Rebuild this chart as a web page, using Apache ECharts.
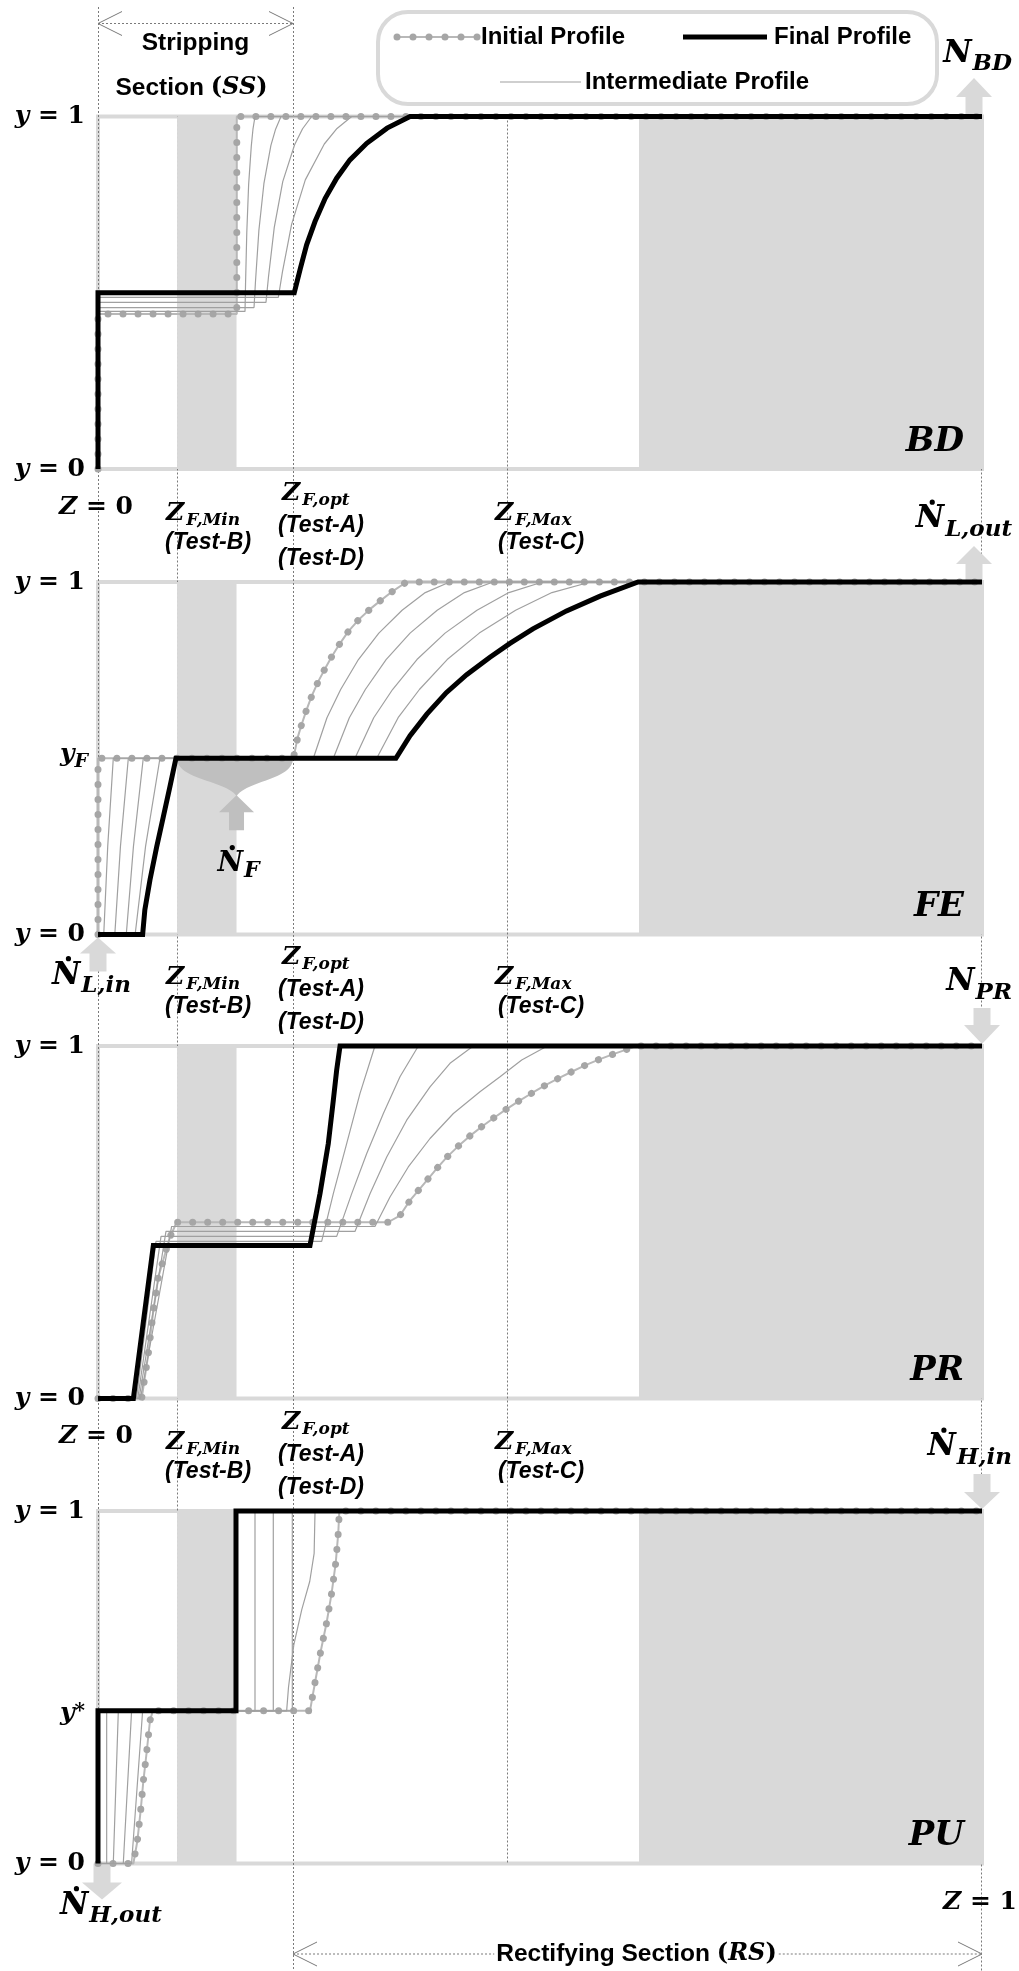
<!DOCTYPE html>
<html>
<head>
<meta charset="utf-8">
<title>Composition profiles along the column</title>
<script src="https://cdn.jsdelivr.net/npm/echarts@6.0.0/dist/echarts.min.js"></script>
<style>
  html, body { margin: 0; padding: 0; background: #fff; }
  #chart { width: 1019px; height: 1971px; }
</style>
</head>
<body>
<div id="chart"></div>
<script>
// ---- marks along the normalised column height Z (0 = bottom, 1 = top) ----
const zFeedMin = 0.0894;
const zFeedOpt = 0.2206;
const zFeedMax = 0.4627;
const stripShade = [0.0894, 0.1567];
const rectShade = [0.612, 1];
const yFeed = 0.5;
const yStar = 0.433;
const panelNames = ['BD', 'FE', 'PR', 'PU'];

// ---- BD : batch distillation ----
const bdInitial = [[0, 0], [0, 0.44], [0.157, 0.44], [0.157, 1], [1, 1]];
const bdFinal = [[0, 0], [0, 0.5], [0.222, 0.5], [0.229, 0.57], [0.236, 0.636], [0.2455, 0.702], [0.257, 0.768], [0.27, 0.825], [0.285, 0.877], [0.304, 0.924], [0.327, 0.967], [0.353, 1], [1, 1]];
const bdMid1 = [[0, 0], [0, 0.447], [0.1663, 0.447], [0.1669, 0.524], [0.1683, 0.67], [0.1704, 0.807], [0.1734, 0.916], [0.1753, 0.964], [0.1776, 1], [1, 1]];
const bdMid2 = [[0, 0], [0, 0.458], [0.1765, 0.458], [0.1782, 0.534], [0.182, 0.677], [0.1877, 0.81], [0.1956, 0.918], [0.2009, 0.964], [0.207, 1], [1, 1]];
const bdMid3 = [[0, 0], [0, 0.4725], [0.19, 0.4725], [0.1929, 0.546], [0.1994, 0.6856], [0.209, 0.8154], [0.2224, 0.9198], [0.2314, 0.9652], [0.2417, 1], [1, 1]];
const bdMid4 = [[0, 0], [0, 0.4867], [0.204, 0.4867], [0.2086, 0.5586], [0.219, 0.6941], [0.2345, 0.8203], [0.256, 0.922], [0.2704, 0.9661], [0.287, 1], [1, 1]];

// ---- FE : feed ----
const feInitial = [[0, 0], [0, 0.5], [0.221, 0.5], [0.226, 0.56], [0.2305, 0.597], [0.236, 0.638], [0.2417, 0.676], [0.2492, 0.718], [0.2568, 0.754], [0.2643, 0.788], [0.2738, 0.826], [0.2832, 0.86], [0.2945, 0.892], [0.3077, 0.923], [0.321, 0.95], [0.334, 0.975], [0.349, 1], [1, 1]];
const feFinal = [[0, 0], [0.0505, 0], [0.053, 0.07], [0.0588, 0.155], [0.0664, 0.249], [0.0739, 0.334], [0.0814, 0.42], [0.0882, 0.5], [0.337, 0.5], [0.353, 0.564], [0.372, 0.625], [0.394, 0.686], [0.417, 0.737], [0.443, 0.786], [0.466, 0.826], [0.492, 0.867], [0.53, 0.918], [0.568, 0.96], [0.611, 1], [1, 1]];
const feMid1 = [[0, 0], [0.0065, 0], [0.011, 0.25], [0.0173, 0.5], [0.2436, 0.5], [0.259, 0.615], [0.2745, 0.695], [0.2946, 0.78], [0.3177, 0.855], [0.344, 0.92], [0.3702, 0.97], [0.398, 1], [1, 1]];
const feMid2 = [[0, 0], [0.019, 0], [0.0254, 0.25], [0.0343, 0.5], [0.2662, 0.5], [0.2843, 0.615], [0.3024, 0.695], [0.3259, 0.78], [0.353, 0.855], [0.3837, 0.92], [0.4145, 0.97], [0.447, 1], [1, 1]];
const feMid3 = [[0, 0], [0.032, 0], [0.0401, 0.25], [0.0512, 0.5], [0.2907, 0.5], [0.3119, 0.615], [0.3332, 0.695], [0.3608, 0.78], [0.3926, 0.855], [0.4287, 0.92], [0.4648, 0.97], [0.503, 1], [1, 1]];
const feMid4 = [[0, 0], [0.042, 0], [0.0538, 0.25], [0.0701, 0.5], [0.3153, 0.5], [0.3395, 0.615], [0.3636, 0.695], [0.395, 0.78], [0.4313, 0.855], [0.4724, 0.92], [0.5135, 0.97], [0.557, 1], [1, 1]];

// ---- PR : product reflux ----
const prInitial = [[0, 0], [0.0494, 0], [0.0569, 0.126], [0.0626, 0.249], [0.0682, 0.344], [0.0758, 0.41], [0.0814, 0.458], [0.089, 0.5], [0.328, 0.5], [0.3416, 0.519], [0.353, 0.562], [0.3623, 0.59], [0.3737, 0.624], [0.3831, 0.652], [0.3944, 0.684], [0.4076, 0.716], [0.4208, 0.745], [0.434, 0.771], [0.4472, 0.795], [0.4604, 0.818], [0.4755, 0.843], [0.4906, 0.866], [0.5057, 0.888], [0.5207, 0.908], [0.5358, 0.927], [0.5509, 0.945], [0.5671, 0.962], [0.5829, 0.977], [0.6, 0.992], [0.609, 1], [1, 1]];
const prFinal = [[0, 0], [0.04, 0], [0.0626, 0.434], [0.2398, 0.434], [0.2511, 0.581], [0.2605, 0.723], [0.2662, 0.846], [0.27, 0.932], [0.2738, 1], [1, 1]];
const prMid1 = [[0, 0], [0.0435, 0], [0.0656, 0.446], [0.253, 0.446], [0.2662, 0.5811], [0.2813, 0.7233], [0.2964, 0.8655], [0.3133, 1], [1, 1]];
const prMid2 = [[0, 0], [0.045, 0], [0.0713, 0.46], [0.27, 0.46], [0.287, 0.5811], [0.304, 0.6949], [0.3228, 0.8086], [0.3416, 0.9127], [0.3624, 1], [1, 1]];
const prMid3 = [[0, 0], [0.0465, 0], [0.0769, 0.474], [0.2907, 0.474], [0.3077, 0.5811], [0.3266, 0.6853], [0.3492, 0.7896], [0.3756, 0.8843], [0.3982, 0.9508], [0.4246, 1], [1, 1]];
const prMid4 = [[0, 0], [0.048, 0], [0.0833, 0.488], [0.3133, 0.488], [0.3303, 0.5715], [0.351, 0.6568], [0.3756, 0.7376], [0.402, 0.8086], [0.4321, 0.87], [0.4548, 0.9127], [0.4793, 0.9602], [0.5057, 0.9963], [0.515, 1], [1, 1]];

// ---- PU : purge ----
const puInitial = [[0, 0], [0.04, 0], [0.0445, 0.0636], [0.0483, 0.1514], [0.0513, 0.234], [0.0551, 0.317], [0.0588, 0.405], [0.062, 0.433], [0.2398, 0.433], [0.2455, 0.5136], [0.2519, 0.6014], [0.2587, 0.6844], [0.2643, 0.767], [0.2689, 0.852], [0.2718, 0.9378], [0.273, 1], [1, 1]];
const puFinal = [[0, 0], [0, 0.433], [0.1561, 0.433], [0.1561, 1], [1, 1]];
const puMid1 = [[0, 0], [0.0098, 0], [0.0098, 0.433], [0.1776, 0.433], [0.1776, 1], [1, 1]];
const puMid2 = [[0, 0], [0.0173, 0], [0.023, 0.433], [0.1983, 0.433], [0.1983, 1], [1, 1]];
const puMid3 = [[0, 0], [0.0286, 0], [0.038, 0.433], [0.2198, 0.433], [0.2198, 1], [1, 1]];
const puMid4 = [[0, 0], [0.038, 0], [0.0505, 0.433], [0.2134, 0.433], [0.2155, 0.5], [0.2215, 0.62], [0.2305, 0.72], [0.2395, 0.8], [0.2445, 0.88], [0.2455, 1], [1, 1]];

const profiles = [
  { initial: bdInitial, mids: [bdMid1, bdMid2, bdMid3, bdMid4], final: bdFinal },
  { initial: feInitial, mids: [feMid1, feMid2, feMid3, feMid4], final: feFinal },
  { initial: prInitial, mids: [prMid1, prMid2, prMid3, prMid4], final: prFinal },
  { initial: puInitial, mids: [puMid1, puMid2, puMid3, puMid4], final: puFinal }
];

// ---- layout ----
const SERIF = '"DejaVu Serif", serif';
const SANS = '"Liberation Sans", Arial, sans-serif';
const gridTops = [116.5, 582, 1046, 1511];
const gridHeight = 352.5;
const SHADE = '#d9d9d9';

const chart = echarts.init(document.getElementById('chart'), null, { renderer: 'canvas' });

const series = [];
profiles.forEach((p, i) => {
  const axes = { xAxisIndex: i, yAxisIndex: i, showSymbol: false, clip: false, silent: true, animation: false };
  // shaded stages
  series.push(Object.assign({}, axes, {
    type: 'line', z: 1, data: [[0, 0], [1, 0]], lineStyle: { opacity: 0 },
    markArea: {
      silent: true, z: 1, itemStyle: { color: SHADE },
      data: [
        [{ xAxis: stripShade[0], yAxis: 0 }, { xAxis: stripShade[1], yAxis: 1 }],
        [{ xAxis: rectShade[0], yAxis: 0 }, { xAxis: rectShade[1], yAxis: 1 }]
      ]
    }
  }));
  series.push(Object.assign({}, axes, {
    type: 'line', name: 'Initial Profile', z: 3, data: p.initial,
    lineStyle: { color: '#b8b8b8', width: 2 }
  }));
  series.push(Object.assign({}, axes, {
    type: 'line', name: 'Initial Profile', z: 3, data: p.initial,
    lineStyle: { color: '#a6a6a6', width: 7, type: [0.01, 15], cap: 'round', join: 'round' }
  }));
  p.mids.forEach(d => series.push(Object.assign({}, axes, {
    type: 'line', name: 'Intermediate Profile', z: 4, data: d,
    lineStyle: { color: '#a0a0a0', width: 1.2 }
  })));
  series.push(Object.assign({}, axes, {
    type: 'line', name: 'Final Profile', z: 5, data: p.final,
    lineStyle: { color: '#000', width: 5, join: 'miter' }
  }));
});

const yRich = {
  v: { fontFamily: SERIF, fontSize: 25, fontWeight: 'bold', fontStyle: 'italic', color: '#000' },
  n: { fontFamily: SERIF, fontSize: 25, fontWeight: 'bold', color: '#000' }
};

chart.setOption({
  backgroundColor: '#fff',
  animation: false,
  grid: gridTops.map(t => ({
    left: 98, right: 37, top: t, height: gridHeight, containLabel: false, outerBoundsMode: 'none',
    show: true, borderColor: SHADE, borderWidth: 4, backgroundColor: 'transparent'
  })),
  xAxis: gridTops.map((t, i) => ({ gridIndex: i, type: 'value', min: 0, max: 1, show: false })),
  yAxis: gridTops.map((t, i) => ({
    gridIndex: i, type: 'value', min: 0, max: 1, interval: 1,
    axisLine: { show: false }, axisTick: { show: false }, splitLine: { show: false },
    axisLabel: { margin: 13, formatter: v => '{v|y}{n| = ' + v + '}', rich: yRich }
  })),
  series: series
});

// ---- annotations placed through the axes ----
const X = z => chart.convertToPixel({ xAxisIndex: 0 }, z);
const Y = (i, y) => chart.convertToPixel({ yAxisIndex: i }, y);
const panelTop = i => Y(i, 1);
const panelBot = i => Y(i, 0);

const ctx2d = document.createElement('canvas').getContext('2d');
function measure(p) {
  ctx2d.font = (p.italic ? 'italic ' : '') + 'bold ' + p.size + 'px ' + p.family;
  return ctx2d.measureText(p.t).width;
}
function runWidth(parts) {
  return parts.reduce((s, p) => s + measure(p) + (p.gap || 0), 0);
}
// a run of text pieces sharing one middle line; sub/superscripts shift by dy
function runText(parts, x, y, align) {
  const total = runWidth(parts);
  let cx = align === 'right' ? x - total : align === 'center' ? x - total / 2 : x;
  const out = [];
  parts.forEach(p => {
    cx += p.gap || 0;
    const w = measure(p);
    out.push({
      type: 'text', x: cx, y: y + (p.dy || 0), z: 20, silent: true,
      style: {
        text: p.t, fontFamily: p.family, fontSize: p.size, fontWeight: 'bold',
        fontStyle: p.italic ? 'italic' : 'normal', fill: '#000', align: 'left', verticalAlign: 'middle'
      }
    });
    if (p.dot) {
      out.push({
        type: 'circle', z: 20, silent: true,
        shape: { cx: cx + w * 0.58, cy: y + (p.dy || 0) - p.size * 0.365 - 5.5, r: 2.6 },
        style: { fill: '#000' }
      });
    }
    cx += w;
  });
  return out;
}
function blockArrow(xc, yEnd, yBase, yTip, hw, sw, color) {
  return {
    type: 'polygon', z: 2, silent: true,
    shape: { points: [[xc - sw / 2, yEnd], [xc - sw / 2, yBase], [xc - hw / 2, yBase], [xc, yTip], [xc + hw / 2, yBase], [xc + sw / 2, yBase], [xc + sw / 2, yEnd]] },
    style: { fill: color }
  };
}
const DIM = '#7a7a7a';
function segment(x1, y1, x2, y2, dashed) {
  return {
    type: 'line', z: 0, silent: true, shape: { x1, y1, x2, y2 },
    style: { stroke: DIM, lineWidth: 1, lineDash: dashed ? [2, 2] : null }
  };
}
function openHead(xTip, y, dir) {
  return [segment(xTip, y, xTip + dir * 24, y - 12, false), segment(xTip, y, xTip + dir * 24, y + 12, false)];
}

const g = [];
const px = v => Math.round(X(v)) + 0.5;

// vertical guides
g.push(segment(px(0), 7, px(0), panelBot(3), true));
g.push(segment(px(zFeedMin), panelTop(0), px(zFeedMin), panelBot(3), true));
g.push(segment(px(zFeedOpt), 7, px(zFeedOpt), 1971, true));
g.push(segment(px(zFeedMax), panelTop(0), px(zFeedMax), panelBot(3), true));
g.push(segment(px(1) - 1, panelTop(0), px(1) - 1, 1971, true));

// stripping section span
const ssY = 23.5;
g.push(segment(X(0), ssY, X(zFeedOpt), ssY, true));
g.push(...openHead(X(0), ssY, 1), ...openHead(X(zFeedOpt), ssY, -1));
const ssMid = (X(0) + X(zFeedOpt)) / 2;
g.push(...runText([{ t: 'Stripping', family: SANS, size: 24.5 }], ssMid, 43, 'center'));
g.push(...runText([
  { t: 'Section ', family: SANS, size: 24.5 },
  { t: '(', family: SERIF, size: 24 },
  { t: 'SS', family: SERIF, size: 24, italic: true },
  { t: ')', family: SERIF, size: 24 }
], ssMid - 4, 88, 'center'));

// rectifying section span
const rsY = 1954;
const rsParts = [
  { t: 'Rectifying Section ', family: SANS, size: 24.5 },
  { t: '(', family: SERIF, size: 24 },
  { t: 'RS', family: SERIF, size: 24, italic: true },
  { t: ')', family: SERIF, size: 24 }
];
const rsMid = 636.5;
const rsW = runWidth(rsParts);
g.push(...runText(rsParts, rsMid, rsY, 'center'));
g.push(segment(X(zFeedOpt), rsY, rsMid - rsW / 2 - 2, rsY, true));
g.push(segment(rsMid + rsW / 2 + 2, rsY, X(1), rsY, true));
g.push(...openHead(X(zFeedOpt), rsY, 1), ...openHead(X(1), rsY, -1));

// legend box
g.push({ type: 'rect', z: 10, silent: true, shape: { x: 378, y: 12, width: 559, height: 92, r: 30 }, style: { fill: '#fff', stroke: SHADE, lineWidth: 4 } });
g.push({ type: 'line', z: 11, silent: true, shape: { x1: 396, y1: 37, x2: 477, y2: 37 }, style: { stroke: '#b8b8b8', lineWidth: 2 } });
[397, 413, 429, 445, 461, 477].forEach(cx => g.push({ type: 'circle', z: 11, silent: true, shape: { cx, cy: 37, r: 3.5 }, style: { fill: '#a6a6a6' } }));
g.push(...runText([{ t: 'Initial Profile', family: SANS, size: 24 }], 481, 37, 'left'));
g.push({ type: 'line', z: 11, silent: true, shape: { x1: 683, y1: 37, x2: 767, y2: 37 }, style: { stroke: '#000', lineWidth: 5 } });
g.push(...runText([{ t: 'Final Profile', family: SANS, size: 24 }], 774, 37, 'left'));
g.push({ type: 'line', z: 11, silent: true, shape: { x1: 500, y1: 82, x2: 581, y2: 82 }, style: { stroke: '#a0a0a0', lineWidth: 1.2 } });
g.push(...runText([{ t: 'Intermediate Profile', family: SANS, size: 24 }], 585, 82, 'left'));

// feed-location labels between panels
const zMain = { family: SERIF, size: 25, italic: true };
const zSub = { family: SERIF, size: 17, italic: true, dy: 8, gap: 2 };
const testStyle = { family: SANS, size: 23, italic: true };
function feedLabels(T, withZero) {
  if (withZero) {
    g.push(...runText([Object.assign({}, zMain, { t: 'Z' }), { t: ' = 0', family: SERIF, size: 25 }], X(0) - 2, T - 75, 'center'));
  }
  g.push(...runText([Object.assign({}, zMain, { t: 'Z' }), Object.assign({}, zSub, { t: 'F,Min' })], X(zFeedMin) - 11, T - 69, 'left'));
  g.push(...runText([Object.assign({}, testStyle, { t: '(Test-B)' })], X(zFeedMin) + 31, T - 39, 'center'));
  g.push(...runText([Object.assign({}, zMain, { t: 'Z' }), Object.assign({}, zSub, { t: 'F,opt' })], X(zFeedOpt) - 11, T - 89, 'left'));
  g.push(...runText([Object.assign({}, testStyle, { t: '(Test-A)' })], X(zFeedOpt) + 28, T - 56, 'center'));
  g.push(...runText([Object.assign({}, testStyle, { t: '(Test-D)' })], X(zFeedOpt) + 28, T - 23, 'center'));
  g.push(...runText([Object.assign({}, zMain, { t: 'Z' }), Object.assign({}, zSub, { t: 'F,Max' })], X(zFeedMax) - 12, T - 69, 'left'));
  g.push(...runText([Object.assign({}, testStyle, { t: '(Test-C)' })], X(zFeedMax) + 34, T - 39, 'center'));
}
feedLabels(panelTop(1), true);
feedLabels(panelTop(2), false);
feedLabels(panelTop(3), true);

// stream labels and arrows at the column ends
function stream(sub, dot) {
  return [
    { t: 'N', family: SERIF, size: 31, italic: true, dot: dot },
    { t: sub, family: SERIF, size: 23, italic: true, dy: 11, gap: 1 }
  ];
}
g.push(...runText(stream('BD', false), 1012, panelTop(0) - 63, 'right'));
g.push(...runText(stream('L,out', true), 1012, panelTop(1) - 63, 'right'));
g.push(...runText(stream('PR', false), 1012, panelTop(2) - 64, 'right'));
g.push(...runText(stream('H,in', true), 1012, panelTop(3) - 64, 'right'));
g.push(...runText(stream('L,in', true), 52, panelBot(1) + 41, 'left'));
g.push(...runText(stream('H,out', true), 60, panelBot(3) + 42, 'left'));
g.push(...runText([Object.assign({}, zMain, { t: 'Z' }), { t: ' = 1', family: SERIF, size: 25 }], 1017, panelBot(3) + 39, 'right'));

g.push(blockArrow(974, panelTop(0), panelTop(0) - 19.5, panelTop(0) - 38.5, 36, 17, SHADE));
g.push(blockArrow(974, panelTop(1), panelTop(1) - 18, panelTop(1) - 36, 36, 17, SHADE));
g.push(blockArrow(982, panelTop(2) - 38, panelTop(2) - 21, panelTop(2) - 2, 36, 17, SHADE));
g.push(blockArrow(982, panelTop(3) - 37, panelTop(3) - 19, panelTop(3) - 2, 36, 17, SHADE));
g.push(blockArrow(X(0), panelBot(1) + 37, panelBot(1) + 19, panelBot(1) + 3, 36, 17, SHADE));
g.push(blockArrow(X(0) + 4, panelBot(3), panelBot(3) + 19, panelBot(3) + 36, 40, 17, SHADE));

// feed inlet on the FE panel
const FEED = '#bfbfbf';
const yF = Y(1, yFeed);
const xL = X(zFeedMin), xR = X(zFeedOpt), xN = X(stripShade[1]);
function cubic(p0, p1, p2, p3, n) {
  const pts = [];
  for (let k = 0; k <= n; k++) {
    const t = k / n, u = 1 - t;
    pts.push([
      u * u * u * p0[0] + 3 * u * u * t * p1[0] + 3 * u * t * t * p2[0] + t * t * t * p3[0],
      u * u * u * p0[1] + 3 * u * u * t * p1[1] + 3 * u * t * t * p2[1] + t * t * t * p3[1]
    ]);
  }
  return pts;
}
const funnel = cubic([xL, yF], [xL, yF + 22], [xN - 10, yF + 22], [xN, yF + 38], 24)
  .concat(cubic([xN, yF + 38], [xN + 10, yF + 22], [xR, yF + 22], [xR, yF], 24));
g.push({ type: 'polygon', z: 2, silent: true, shape: { points: funnel }, style: { fill: FEED } });
g.push(blockArrow(xN, yF + 72, yF + 54, yF + 37, 35, 15, FEED));
g.push(...runText([
  { t: 'N', family: SERIF, size: 28, italic: true, dot: true },
  { t: 'F', family: SERIF, size: 22, italic: true, dy: 8, gap: 1 }
], xN + 2, yF + 105, 'center'));

// special composition levels on the y axes
g.push(...runText([
  { t: 'y', family: SERIF, size: 25, italic: true, dy: -4 },
  { t: 'F', family: SERIF, size: 19, italic: true, dy: 4 }
], 88, Y(1, yFeed), 'right'));
g.push(...runText([
  { t: 'y', family: SERIF, size: 25, italic: true, dy: 3 },
  { t: '*', family: SERIF, size: 20, dy: 1 }
], 85, Y(3, yStar), 'right'));

// panel names
panelNames.forEach((name, i) => {
  g.push(...runText([{ t: name, family: SERIF, size: 34, italic: true }], 964, panelBot(i) - 27, 'right'));
});

chart.setOption({ graphic: { elements: g } });
</script>
</body>
</html>
